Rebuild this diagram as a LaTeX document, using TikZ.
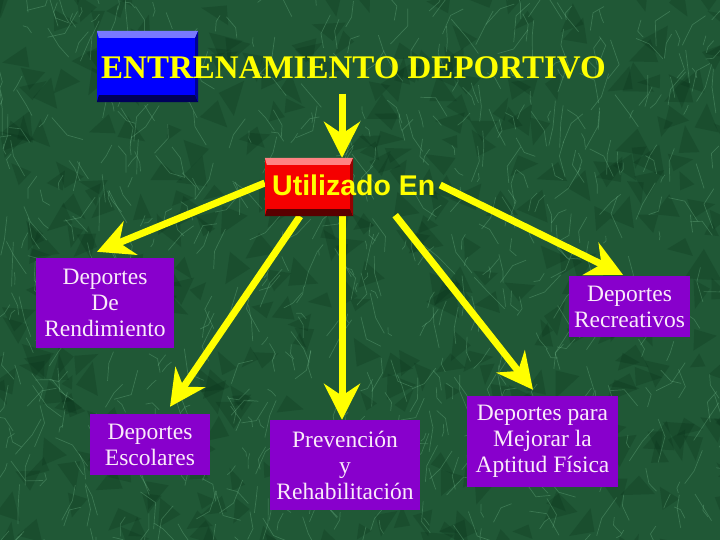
\documentclass[tikz,border=0pt]{standalone}
\usepackage{fontspec}
\setmainfont{Liberation Serif}
\newfontfamily\sansf{Liberation Sans}
\usetikzlibrary{arrows.meta,calc}
\definecolor{bg}{RGB}{32,88,54}
\definecolor{veincol}{RGB}{125,195,150}
\definecolor{darkcol}{RGB}{6,44,22}
\definecolor{purp}{RGB}{136,0,204}
\definecolor{ptext}{RGB}{250,234,250}
\definecolor{ylw}{RGB}{255,255,0}
\definecolor{bluebody}{RGB}{0,0,255}
\definecolor{bluelight}{RGB}{120,120,255}
\definecolor{bluedark}{RGB}{0,0,90}
\definecolor{blueside}{RGB}{0,0,150}
\definecolor{redbody}{RGB}{245,0,0}
\definecolor{redlight}{RGB}{255,130,130}
\definecolor{reddark}{RGB}{90,0,0}
\definecolor{redside}{RGB}{150,0,0}
\newcommand\mybevel[4]{%
  \fill[#2] (#1.north west) -- (#1.north east) -- ($(#1.north east)+(-3,7)$) -- ($(#1.north west)+(2,7)$) -- cycle;
  \fill[#3] (#1.south west) -- (#1.south east) -- ($(#1.south east)+(-3,-7)$) -- ($(#1.south west)+(2,-7)$) -- cycle;
  \fill[#4] (#1.north east) -- (#1.south east) -- ($(#1.south east)+(-3,-7)$) -- ($(#1.north east)+(-3,7)$) -- cycle;
}
\tikzset{
  arr/.style={draw=ylw, line width=7pt, -{Stealth[length=36pt,width=36pt,inset=12pt,fill=ylw]}},
  pbox/.style={fill=purp, text=ptext, align=center, inner sep=0pt, font=\fontsize{23.5}{26}\selectfont},
  vein/.style={draw=veincol, opacity=0.3, line width=0.7pt},
}
\begin{document}
\begin{tikzpicture}[x=1pt,y=-1pt]
\useasboundingbox (0,0) rectangle (720,540);
\fill[bg] (0,0) rectangle (720,540);
% marble texture
\begin{scope}
\clip (0,0) rectangle (720,540);
\pgfmathsetseed{42}
\foreach \i in {1,...,420}{
  \pgfmathsetmacro\xa{rnd*760-20}
  \pgfmathsetmacro\ya{rnd*580-20}
  \pgfmathsetmacro\aa{rnd*360}
  \pgfmathsetmacro\ra{6+rnd*16}
  \pgfmathsetmacro\rb{6+rnd*16}
  \pgfmathsetmacro\rc{6+rnd*16}
  \fill[darkcol, opacity=0.22] ($(\xa,\ya)+(\aa:\ra)$) -- ($(\xa,\ya)+(\aa+120:\rb)$) -- ($(\xa,\ya)+(\aa+240:\rc)$) -- cycle;
}
\foreach \i in {1,...,700}{
  \pgfmathsetmacro\xa{rnd*760-20}
  \pgfmathsetmacro\ya{rnd*580-20}
  \pgfmathsetmacro\an{90+rand*45+(rnd>0.5)*180}
  \pgfmathsetmacro\ln{5+rnd*22}
  \pgfmathsetmacro\bn{\an+rand*60}
  \draw[vein] (\xa,\ya) -- ++(\an:\ln) -- ++(\bn:\ln*0.7);
}
\end{scope}

% blue box and title
\node[fill=bluebody, minimum width=101pt, minimum height=71pt, inner sep=0pt] (blue) at (147.5,66.5) {};
\mybevel{blue}{bluelight}{bluedark}{blueside}
\node[anchor=base west, inner sep=0pt, text=ylw, font=\fontsize{33}{36}\selectfont\bfseries] (title) at (101,79) {ENTRENAMIENTO DEPORTIVO};

% red box position
\node[minimum width=88pt, minimum height=58pt, inner sep=0pt] (red) at (309,187) {};
\coordinate (tgt) at ([xshift=33pt]red.north);

% purple boxes
\node[pbox, minimum width=138pt, minimum height=90pt] (rend) at (105,303) {Deportes\\De\\Rendimiento};
\node[pbox, minimum width=120pt, minimum height=61pt] (esc) at (150,444.5) {Deportes\\Escolares};
\node[pbox, minimum width=150pt, minimum height=90pt] (prev) at (345,465) {Prevención\\y\\Rehabilitación};
\node[pbox, minimum width=151pt, minimum height=91pt] (mej) at (542.5,441.5) {Deportes para\\Mejorar la\\Aptitud Física};
\node[pbox, minimum width=121pt, minimum height=61pt] (rec) at (629.5,306.5) {Deportes\\Recreativos};

% arrows
\draw[arr] ($(title.south -| tgt)+(0,14)$) -- (tgt);
\draw[arr] ([yshift=4pt]red.west) -- ([xshift=-8pt,yshift=6pt]rend.north);
\draw[arr] ([xshift=-9pt]red.south) -- ([xshift=20pt,yshift=7pt]esc.north);
\draw[arr] ([xshift=33pt]red.south) -- ([xshift=-3pt]prev.north);
\draw[arr] ([xshift=42pt,yshift=1pt]red.south east) -- ([xshift=-9.5pt,yshift=6pt]mej.north);
\draw[arr] ([xshift=87pt,yshift=2pt]red.east) -- ([xshift=-6.5pt,yshift=1pt]rec.north);

% red box on top
\fill[redbody] (red.north west) rectangle (red.south east);
\mybevel{red}{redlight}{reddark}{redside}
\node[anchor=base west, inner sep=0pt, text=ylw, font=\sansf\fontsize{28.5}{30}\selectfont\bfseries] (ut) at (272,196) {Utilizado En};
\end{tikzpicture}
\end{document}
